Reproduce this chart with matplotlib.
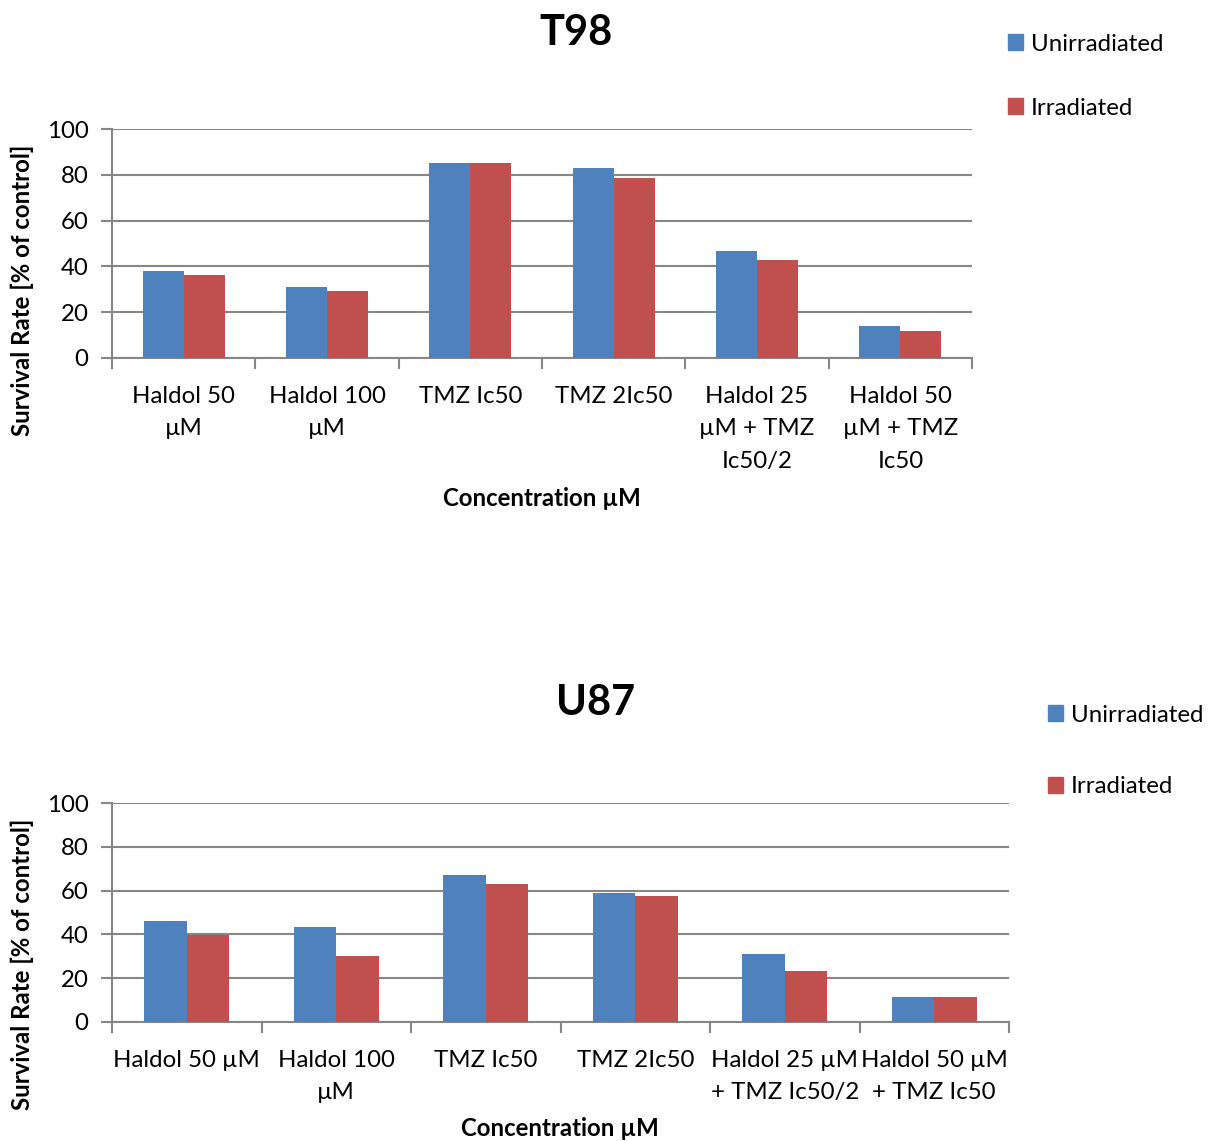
import numpy as np
import matplotlib
matplotlib.use("Agg")
import matplotlib.pyplot as plt
from matplotlib.patches import Patch

# --- DATA ---
SERIES = ["Unirradiated", "Irradiated"]
COLORS = ["#4f81bd", "#c0504d"]

t98_labels = ["Haldol 50\nµM", "Haldol 100\nµM", "TMZ Ic50", "TMZ 2Ic50",
              "Haldol 25\nµM + TMZ\nIc50/2", "Haldol 50\nµM + TMZ\nIc50"]
t98_unirr = [37.8, 31.2, 85.3, 82.9, 46.6, 13.9]
t98_irr = [36.1, 29.2, 85.1, 78.8, 42.6, 12.0]

u87_labels = ["Haldol 50 µM", "Haldol 100\nµM", "TMZ Ic50", "TMZ 2Ic50",
              "Haldol 25 µM\n+ TMZ Ic50/2", "Haldol 50 µM\n+ TMZ Ic50"]
u87_unirr = [46.2, 43.5, 67.1, 59.0, 30.9, 11.5]
u87_irr = [39.5, 30.0, 63.1, 57.6, 23.3, 11.4]

YTICKS = [0, 20, 40, 60, 80, 100]

plt.rcParams['font.family'] = ['Lato', 'DejaVu Sans']

W, H = 1208, 1141
fig = plt.figure(figsize=(W / 100, H / 100), dpi=100)
GRID = "#868686"
FS = 17.3


def px_axes(x0, y0, x1, y1):
    # pixel box (top-left origin) -> figure fraction axes
    return fig.add_axes([x0 / W, 1 - y1 / H, (x1 - x0) / W, (y1 - y0) / H])


def draw_panel(ax, labels, unirr, irr):
    n = len(labels)
    x = np.arange(n)
    bw = 1 / 3.5
    ax.bar(x - bw / 2, unirr, bw, color=COLORS[0], zorder=3)
    ax.bar(x + bw / 2, irr, bw, color=COLORS[1], zorder=3)
    ax.set_xlim(-0.5, n - 0.5)
    ax.set_ylim(0, 100)
    ax.set_yticks(YTICKS)
    ax.yaxis.grid(True, color=GRID, linewidth=1.5, zorder=0)
    ax.set_axisbelow(True)
    for s in ["top", "right"]:
        ax.spines[s].set_visible(False)
    for s in ["left", "bottom"]:
        ax.spines[s].set_color(GRID)
        ax.spines[s].set_linewidth(1.5)
    ax.set_xticks(x)
    ax.set_xticklabels(labels, fontsize=FS, linespacing=1.68)
    ax.tick_params(axis="x", which="major", length=0, pad=20)
    ax.set_xticks(np.arange(n + 1) - 0.5, minor=True)
    ax.tick_params(axis="x", which="minor", length=8, width=1.5, color=GRID)
    ax.tick_params(axis="y", length=8, width=1.5, color=GRID, labelsize=FS, pad=9)


# --- T98 ---
ax1 = px_axes(112, 129, 972, 358)
draw_panel(ax1, t98_labels, t98_unirr, t98_irr)
fig.text(576 / W, 1 - 33 / H, "T98", fontsize=30, fontweight="bold", ha="center", va="center")
fig.text(542 / W, 1 - 498 / H, "Concentration µM", fontsize=FS, fontweight="bold", ha="center", va="center")
fig.text(22 / W, 1 - 290 / H, "Survival Rate [% of control]", fontsize=FS, fontweight="bold",
         rotation=90, ha="center", va="center")

# --- U87 ---
ax2 = px_axes(112, 803, 1009, 1022)
draw_panel(ax2, u87_labels, u87_unirr, u87_irr)
fig.text(596 / W, 1 - 703 / H, "U87", fontsize=30, fontweight="bold", ha="center", va="center")
fig.text(560 / W, 1 - 1128 / H, "Concentration µM", fontsize=FS, fontweight="bold", ha="center", va="center")
fig.text(22 / W, 1 - 964 / H, "Survival Rate [% of control]", fontsize=FS, fontweight="bold",
         rotation=90, ha="center", va="center")

# legends
handles = [Patch(color=c, label=s) for c, s in zip(COLORS, SERIES)]
for (lx, ly, sp) in [(1003, 29, 1.78), (1043, 700, 2.1)]:
    fig.legend(handles=handles, loc="upper left", bbox_to_anchor=(lx / W, 1 - ly / H),
               frameon=False, fontsize=FS, handlelength=0.65, handleheight=0.65,
               handletextpad=0.3, labelspacing=sp, borderaxespad=0, borderpad=0.2)

fig.savefig("out.png", dpi=100)
